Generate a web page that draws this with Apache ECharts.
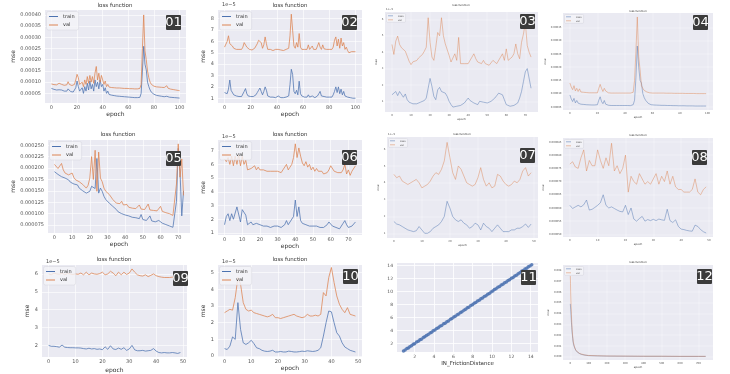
<!DOCTYPE html>
<html><head><meta charset="utf-8">
<script src="https://cdn.jsdelivr.net/npm/echarts@6/dist/echarts.min.js"></script>
<style>html,body{margin:0;padding:0;background:#fff}#c{width:730px;height:374px}</style>
</head><body><div id="c"></div>
<script>
// ---------------- DATA (mse values in units of 1e-5 unless noted) ----------------
const p01Train=[7.2,7.0,6.8,6.7,6.5,6.4,6.6,7.3,6.5,6.2,6.0,5.9,6.0,7.0,6.2,5.8,5.7,5.6,5.8,7.5,10.5,8.0,6.0,5.5,7.5,5.0,8.0,6.0,9.5,6.5,10.5,7.0,9.0,6.0,11.0,8.0,10.0,7.0,11.0,8.0,9.0,6.0,7.5,5.0,6.0,4.5,4.5,4.2,4.3,4.0,3.9,3.8,3.8,3.7,3.6,3.6,3.5,3.5,3.4,3.4,3.3,3.3,3.2,3.2,3.2,3.1,3.1,3.1,3.0,3.2,5.0,15.0,26.0,18.0,15.5,10.0,8.0,6.5,5.5,5.0,4.6,4.3,4.1,4.0,3.9,3.8,3.7,3.6,3.5,3.5,3.7,3.4,3.3,3.3,3.2,3.2,3.1,3.0,3.0,2.9,2.9];
const p01Val=[9.2,9.0,8.9,8.8,8.8,8.9,9.5,10.0,9.0,8.7,8.6,8.5,8.8,10.2,9.0,8.6,8.5,8.5,9.0,11.0,13.5,12.0,9.0,8.5,10.0,8.0,11.0,9.0,12.5,9.5,13.0,10.0,12.5,9.5,14.0,17.0,11.0,14.0,10.0,13.0,11.0,9.0,10.5,8.0,9.0,7.8,7.8,7.6,7.6,7.5,7.5,7.4,7.4,7.4,7.3,7.3,7.3,7.2,7.2,7.2,7.2,7.1,7.1,7.1,7.1,7.0,7.0,7.0,7.0,7.2,9.0,25.0,40.0,24.0,20.0,15.0,12.0,10.0,9.0,8.5,8.2,8.0,7.9,7.9,7.8,7.8,7.7,7.7,7.6,7.6,8.4,7.3,7.0,6.9,6.8,6.7,6.6,6.5,6.4,6.3,6.2];
const p02Train=[1.5,1.5,1.4,1.8,2.6,1.7,1.6,1.3,1.2,1.2,1.2,1.15,1.2,1.15,1.3,1.6,1.85,1.4,1.2,1.15,1.15,1.1,1.15,1.2,1.3,1.5,1.7,1.9,1.6,1.3,1.6,2.0,1.7,1.2,1.1,1.1,1.15,1.1,1.1,1.05,1.1,1.2,1.1,1.05,1.1,1.05,1.1,1.1,1.05,1.2,2.2,3.55,3.1,1.6,1.4,1.7,1.3,2.5,1.4,1.2,1.1,1.1,1.15,1.1,1.3,1.1,1.05,1.2,1.1,1.05,1.1,1.2,1.4,1.6,1.2,1.3,1.15,1.1,1.1,1.05,1.1,1.05,1.1,1.3,1.6,2.0,1.5,2.0,1.4,1.8,1.3,1.6,1.2,1.1,1.1,1.0,1.05,1.0,1.0,0.95,1.0];
const p02Val=[5.5,5.6,6.0,6.5,5.8,5.9,5.6,5.4,5.35,5.3,5.3,5.3,5.35,5.3,5.5,5.9,6.0,5.5,5.35,5.3,5.3,5.25,5.3,5.4,5.6,5.8,6.1,6.2,5.9,5.4,5.7,6.4,5.8,5.3,5.25,5.3,5.25,5.2,5.25,5.3,5.25,5.3,5.2,5.25,5.3,5.2,5.25,5.3,5.2,5.4,6.5,8.4,7.0,5.6,5.4,5.9,5.5,6.7,5.5,5.3,5.25,5.3,5.2,5.3,5.7,5.3,5.25,5.6,5.3,5.25,5.3,5.4,5.9,5.5,5.3,5.7,5.35,5.4,5.3,5.25,5.3,5.2,5.3,5.5,6.1,6.4,5.6,6.2,5.4,6.3,5.6,5.9,5.3,5.5,5.2,5.0,5.1,5.1,5.05,5.1,5.1];
const p03Train=[1.4,1.5,1.6,1.35,1.6,1.5,1.25,1.45,1.1,0.95,0.9,0.85,0.8,0.85,0.9,0.95,1.0,1.05,1.2,1.8,2.4,1.9,1.3,1.1,1.7,1.85,1.6,1.6,1.5,1.3,1.0,0.8,0.65,0.7,0.7,0.8,0.75,0.65,0.9,1.0,1.2,1.05,0.95,0.9,0.85,0.8,1.0,0.9,0.95,1.0,0.9,0.95,1.0,1.1,1.2,1.35,1.5,1.45,1.4,1.1,0.8,0.75,0.7,0.7,0.75,0.8,0.9,1.2,1.6,2.2,2.8,3.0,3.05,1.8];
const p03Val=[4.47,3.86,4.67,4.98,4.47,4.27,4.31,4.06,3.76,3.45,3.24,3.41,3.35,3.49,3.65,3.76,3.86,4.06,4.3,6.1,4.6,3.7,3.5,4.3,5.2,5.0,6.1,5.0,4.5,4.6,3.8,3.4,3.5,3.9,3.5,4.9,3.3,3.4,3.3,3.2,3.3,3.4,3.7,3.9,3.6,3.4,3.5,3.3,3.5,3.3,3.4,3.2,3.3,3.5,3.6,3.3,3.4,3.7,3.9,3.5,4.2,3.5,3.5,3.7,3.9,4.5,3.9,3.6,4.6,5.1,5.8,4.4,4.0,3.7];
const p04Train=[9.5,8.0,7.0,8.2,6.5,7.4,6.4,6.8,6.0,6.2,5.9,5.8,5.8,5.8,5.75,5.75,5.7,5.7,5.7,5.7,5.8,7.5,8.8,7.0,6.2,7.4,6.0,5.8,5.6,5.5,5.5,5.5,5.5,5.5,5.5,5.5,5.5,5.5,5.5,5.5,5.5,5.5,5.5,5.45,5.45,5.45,5.8,7.5,16.0,28.0,20.0,15.0,14.0,10.0,8.5,7.5,6.8,6.3,6.0,5.8,5.7,5.7,5.65,5.65,5.6,5.6,5.6,5.55,5.55,5.55,5.5,5.5,5.5,5.5,5.45,5.45,5.45,5.45,5.4,5.4,5.4,5.4,5.4,5.4,5.35,5.35,5.35,5.35,5.35,5.35,5.3,5.3,5.3,5.3,5.3,5.3,5.3,5.3,5.3,5.3];
const p04Val=[14.0,12.5,11.5,13.0,11.0,12.0,10.8,11.8,10.6,11.0,10.5,10.4,10.4,10.3,10.3,10.3,10.3,10.3,10.3,10.3,10.3,12.0,13.5,12.0,10.8,12.0,11.0,10.5,10.3,10.2,10.2,10.2,10.2,10.2,10.2,10.2,10.2,10.2,10.2,10.2,10.2,10.2,10.2,10.2,10.2,10.2,10.5,15.0,26.0,39.0,24.0,19.0,13.0,12.0,11.2,10.8,10.6,10.4,10.3,10.3,10.2,10.2,10.2,10.2,10.2,10.2,10.2,10.2,10.2,10.2,10.15,10.15,10.15,10.15,10.15,10.1,10.1,10.1,10.1,10.1,10.1,10.1,10.1,10.1,10.05,10.05,10.05,10.05,10.05,10.05,10.05,10.0,10.0,10.0,10.0,10.0,10.0,10.0,10.0,10.0];
const p05Train=[19.2,18.9,18.6,18.3,18.1,17.9,17.8,17.6,17.4,16.9,17.2,16.5,16.2,16.3,15.6,15.3,15.0,14.7,14.5,14.3,14.9,16.0,16.3,15.5,22.1,14.5,15.6,14.9,13.8,13.1,12.7,12.3,12.0,11.6,11.3,10.9,10.4,10.2,10.0,9.8,9.7,9.5,9.5,9.3,9.2,9.1,9.1,8.9,8.9,9.8,8.7,8.6,8.5,8.4,9.5,8.4,8.2,8.2,8.4,8.5,8.2,7.9,7.7,7.6,7.4,7.3,7.1,7.0,7.3,12.7,24.3,19.2,9.5,15.0];
const p05Val=[20.8,20.5,19.9,20.1,21.0,19.6,18.9,19.2,18.5,18.1,18.9,17.9,17.4,17.8,17.0,16.6,16.4,16.1,15.6,16.2,17.8,22.5,17.5,23.9,14.9,23.5,17.8,17.0,15.6,14.9,14.5,14.2,13.8,13.1,13.4,12.3,12.6,12.2,12.7,11.9,11.6,12.0,11.4,11.7,11.2,11.5,11.1,11.3,11.9,11.0,11.2,10.9,11.1,12.1,10.8,11.2,10.7,11.0,10.6,10.4,11.6,10.5,10.7,10.2,10.5,10.0,9.9,9.6,10.0,16.5,25.3,18.0,22.0,14.0];
const p06Train=[1.6,2.2,2.4,1.9,2.4,2.0,1.9,2.9,2.9,1.8,2.7,2.8,2.3,1.6,1.5,1.8,1.6,1.6,1.7,1.6,1.6,1.6,1.5,1.5,1.5,1.5,1.4,1.5,1.5,1.4,1.5,1.4,1.4,1.5,1.6,1.9,1.6,1.8,1.9,2.2,3.4,2.2,2.9,1.9,1.7,1.7,1.6,1.5,1.5,1.6,1.5,1.4,1.5,1.4,1.4,1.4,1.4,1.4,1.6,1.8,1.9,1.5,1.4,1.4,1.3,1.3,1.4,1.7,1.9,1.6,1.4,1.3,1.5,1.6,1.8];
const p06Val=[6.4,6.2,6.5,6.0,6.6,5.9,6.6,6.0,6.7,5.9,6.6,6.0,6.3,5.6,5.5,5.7,5.6,5.9,5.6,5.8,5.6,5.7,5.6,5.5,5.5,5.4,5.5,5.4,5.5,5.4,5.5,5.5,5.4,5.6,5.7,6.0,5.6,5.8,6.0,6.5,7.5,6.5,7.2,6.6,6.1,5.9,6.2,5.8,6.0,5.6,5.8,5.5,5.7,5.5,5.4,5.5,5.3,5.4,5.4,5.6,5.9,5.9,5.5,5.4,5.4,5.3,5.4,5.6,6.0,5.3,5.6,5.2,5.5,5.6,5.9];
const p07Train=[1.7,1.55,1.5,1.4,1.3,1.2,1.15,1.1,1.15,1.4,1.2,1.0,1.0,1.1,1.3,1.4,1.5,1.7,2.0,2.9,2.5,2.0,1.8,1.7,1.8,1.6,1.5,1.3,1.4,1.6,1.5,1.2,1.6,1.4,1.3,1.1,1.3,1.5,1.3,1.1,1.1,1.1,1.2,1.2,1.3,1.3,1.4,1.55,1.35,1.55];
const p07Val=[4.5,4.3,4.4,4.1,4.0,3.9,4.0,4.1,4.2,4.0,3.7,3.8,3.9,4.1,4.4,4.6,4.5,4.8,5.3,6.4,5.5,4.6,4.2,5.0,4.8,4.4,4.0,3.9,3.8,3.9,4.3,4.9,4.2,3.8,4.0,3.7,3.8,4.5,4.4,4.1,3.9,3.8,3.9,4.1,4.0,4.2,4.7,4.9,4.4,4.6];
const p08Train=[6.1,5.98,6.04,6.1,6.04,6.12,6.3,5.92,5.95,6.02,6.1,6.2,6.5,6.1,6.0,6.04,5.98,5.92,5.87,5.85,6.1,5.75,6.0,5.58,5.5,5.6,5.68,5.5,5.56,5.52,5.57,5.52,5.58,5.55,5.53,5.95,5.52,5.45,5.55,5.3,5.2,5.18,5.15,5.13,5.12,5.35,5.3,5.18,5.1,5.05];
const p08Val=[7.66,7.75,7.55,7.5,7.9,8.2,7.4,7.8,7.6,7.6,8.2,7.8,7.5,7.9,7.6,8.45,7.4,7.6,7.3,7.5,8.0,6.6,7.2,7.0,6.9,7.3,7.1,6.9,7.0,6.9,7.1,7.3,6.9,7.2,7.0,7.4,6.9,7.2,6.8,6.7,6.7,6.6,6.6,6.6,6.7,7.1,6.6,6.5,6.7,6.8];
const p09Train=[2.0,1.95,1.95,1.93,1.9,2.02,1.9,1.88,1.87,1.87,1.86,1.86,1.85,1.82,1.8,1.84,1.8,1.82,1.78,1.8,1.76,1.92,1.78,1.98,1.8,1.77,1.85,1.78,1.87,1.72,1.8,2.0,1.75,1.7,1.7,1.72,1.68,1.7,1.72,1.82,1.68,1.6,1.58,1.6,1.58,1.58,1.6,1.58,1.55,1.6];
const p09Val=[6.0,5.95,6.05,6.0,5.98,6.05,5.95,6.02,6.0,5.97,6.0,5.98,6.05,5.95,6.1,5.95,6.05,6.0,5.98,6.02,6.1,5.95,6.0,6.15,6.05,5.9,6.1,5.95,6.1,5.97,6.05,6.28,6.1,5.95,5.9,5.88,5.95,5.85,5.92,6.0,5.9,5.85,5.82,5.8,5.8,5.8,5.82,5.8,5.8,5.78];
const p10Train=[0.45,0.4,0.6,1.15,1.0,3.2,1.6,0.8,0.7,0.8,0.95,0.75,0.5,0.45,0.35,0.3,0.28,0.3,0.35,0.25,0.25,0.28,0.25,0.25,0.3,0.28,0.25,0.25,0.27,0.3,0.28,0.32,0.3,0.28,0.3,0.35,0.5,1.2,2.0,2.7,2.65,2.0,1.4,1.2,0.8,0.55,0.45,0.35,0.3,0.25];
const p10Val=[2.6,2.7,2.8,2.75,3.5,4.7,4.3,3.2,2.8,2.7,2.75,2.6,2.55,2.5,2.45,2.4,2.35,2.4,2.5,2.3,2.3,2.25,2.3,2.35,2.4,2.45,2.5,2.4,2.35,2.3,2.35,2.5,2.4,2.4,2.45,2.4,2.5,3.8,3.6,4.7,5.3,4.4,3.6,3.1,2.8,2.6,2.9,2.5,2.45,2.4];
// panel 11: actual vs predicted IN_FrictionDistance
const p11Actual=[0.85,1.02,1.2,1.35,1.5,1.68,1.85,2.0,2.2,2.38,2.55,2.7,2.9,3.05,3.22,3.4,3.6,3.75,3.92,4.1,4.28,4.45,4.62,4.8,5.0,5.15,5.33,5.5,5.7,5.86,6.05,6.2,6.4,6.56,6.75,6.9,7.1,7.27,7.45,7.6,7.8,7.98,8.15,8.32,8.5,8.68,8.85,9.02,9.2,9.38,9.55,9.72,9.9,10.08,10.25,10.42,10.6,10.78,10.95,11.12,11.3,11.48,11.65,11.82,12.0,12.18,12.35,12.52,12.7,12.88,13.05,13.22,13.4,13.58,13.75,13.92,14.1];
const p11Pred=[0.88,1.0,1.23,1.33,1.52,1.66,1.88,1.98,2.23,2.36,2.57,2.68,2.93,3.03,3.25,3.38,3.62,3.73,3.95,4.08,4.3,4.43,4.65,4.78,5.03,5.13,5.36,5.48,5.72,5.84,6.08,6.18,6.43,6.54,6.78,6.88,7.13,7.25,7.48,7.58,7.83,7.95,8.18,8.3,8.53,8.65,8.88,9.0,9.23,9.35,9.58,9.7,9.93,10.05,10.28,10.4,10.63,10.75,10.98,11.1,11.33,11.45,11.68,11.8,12.03,12.15,12.38,12.5,12.73,12.85,13.08,13.2,13.43,13.55,13.78,13.9,14.08];
// panel 12: [epoch, mse] (absolute units)
const p12Train=[[0,0.0049],[2,0.0044],[4,0.0038],[6,0.0032],[8,0.0027],[10,0.0022],[13,0.0017],[16,0.0013],[20,0.0010],[25,0.0008],[30,0.0006],[40,0.0004],[50,0.0003],[60,0.00022],[80,0.00015],[100,0.0001],[150,0.00008],[200,0.00006],[300,0.00005],[400,0.00004],[500,0.00004],[600,0.00003],[700,0.00003],[740,0.00003]];
const p12Val=[[0,0.0075],[1,0.0068],[2,0.006],[4,0.0048],[6,0.0039],[8,0.0031],[10,0.0025],[13,0.0019],[16,0.0014],[20,0.0011],[25,0.0008],[30,0.0006],[40,0.00042],[50,0.0003],[60,0.00023],[80,0.00016],[100,0.00012],[150,0.00009],[200,0.00007],[300,0.00006],[400,0.00005],[500,0.00005],[600,0.00004],[700,0.00004],[740,0.00004]];

// tick labels
const xTicks100=[0,20,40,60,80,100];
const xTicks70=[0,10,20,30,40,50,60,70];
const xTicks50=[0,10,20,30,40,50];
const xTicks700=[0,100,200,300,400,500,600,700];
const p01YTicks=[5,10,15,20,25,30,35,40];
const p02YTicks=[1,2,3,4,5,6,7,8];
const p03YTicks=[1,2,3,4,5,6];
const p04YTicks=[5,10,15,20,25,30,35];
const p05YTicks=[7.5,10,12.5,15,17.5,20,22.5,25];
const p06YTicks=[1,2,3,4,5,6,7];
const p07YTicks=[1,2,3,4,5,6];
const p08YTicks=[5,5.5,6,6.5,7,7.5,8,8.5];
const p09YTicks=[2,3,4,5,6];
const p10YTicks=[0,1,2,3,4,5];
const p11Ticks=[2,4,6,8,10,12,14];
const p12YTicks=[0,0.001,0.002,0.003,0.004,0.005,0.006,0.007,0.008];
const seriesNames=['train','val'];
const panelLabels=['01','02','03','04','05','06','07','08','09','10','11','12'];

// ---------------- LAYOUT / STYLE ----------------
const TRAIN='#4C72B0', VAL='#DD8452';
const e5=d=>v=>(v*1e-5).toFixed(d);
const intf=v=>String(v);
const BIG={tick:5,title:5.5,name:6,leg:5,lw:0.9,xm:2.5,ym:4,gridW:0.6,legW:9,legH:1,legGap:2,off:5};
const SMALL={tick:2.6,title:2.8,name:2.8,leg:2.4,lw:0.55,xm:1.5,ym:1.5,gridW:0.35,legW:5,legH:0.5,legGap:1,off:2.6};
const idx=a=>a.map((v,i)=>[i,v]);
const panels=[
 {g:[45,10,141,93],x:[-5,105],xt:xTicks100,y:[0.7,42.2],yt:p01YTicks,yf:e5(5),tr:idx(p01Train),va:idx(p01Val),t:[115,6],xg:8,yg:24,badge:[166,15]},
 {g:[218,10,144,93],x:[-5,105],xt:xTicks100,y:[0.58,8.77],yt:p02YTicks,yf:intf,tr:idx(p02Train),va:idx(p02Val),t:[290,6],xg:8,yg:8,off:[222,5],badge:[342,15]},
 {g:[385,12,153,100],x:[-3.65,76.65],xt:xTicks70,y:[0.35,6.45],yt:p03YTicks,yf:intf,tr:idx(p03Train),va:idx(p03Val),t:[461,5],xg:4,yg:4,off:[386,9.5],badge:[520,14],small:true},
 {g:[563,13,150,97],x:[-5,104],xt:xTicks100,y:[3.8,40.5],yt:p04YTicks,yf:e5(5),tr:idx(p04Train),va:idx(p04Val),t:[638,11],xg:4,yg:12,badge:[693,15],small:true},
 {g:[48,140,142,93],x:[-3.65,76.65],xt:xTicks70,y:[5.75,26.15],yt:p05YTicks,yf:e5(6),tr:idx(p05Train),va:idx(p05Val),t:[118,135],xg:8,yg:27,badge:[166,151]},
 {g:[218,140,144,95],x:[-3.7,77.7],xt:xTicks70,y:[0.85,7.78],yt:p06YTicks,yf:intf,tr:idx(p06Train),va:idx(p06Val),t:[290,135],xg:6,yg:8,off:[222,137],badge:[342,150]},
 {g:[387,137,151,101],x:[-2.45,51.45],xt:xTicks50,y:[0.72,6.72],yt:p07YTicks,yf:intf,tr:idx(p07Train),va:idx(p07Val),t:[462,134],xg:4,yg:4,off:[388,134.5],badge:[520,148],small:true},
 {g:[563,138,150,99],x:[-2.45,51.45],xt:xTicks50,y:[4.9,8.65],yt:p08YTicks,yf:e5(6),tr:idx(p08Train),va:idx(p08Val),t:[638,135],xg:4,yg:13,badge:[692,150],small:true},
 {g:[42,265,145,92],x:[-2.45,51.45],xt:xTicks50,y:[1.35,6.5],yt:p09YTicks,yf:intf,tr:idx(p09Train),va:idx(p09Val),t:[114,260],xg:10,yg:8,off:[46,262],badge:[173,271]},
 {g:[218,265,144,92],x:[-2.45,51.45],xt:xTicks50,y:[-0.05,5.45],yt:p10YTicks,yf:intf,tr:idx(p10Train),va:idx(p10Val),t:[290,260],xg:8,yg:8,off:[222,262],badge:[343,269]},
 {g:[397,263,141,89],x:[0.18,14.75],xt:p11Ticks,y:[0.71,14.36],yt:p11Ticks,yf:intf,scatter:true,badge:[521,270],xname:'IN_FrictionDistance',xg:9},
 {g:[563,265,150,95],x:[-40,780],xt:xTicks700,y:[-0.0003,0.0085],yt:p12YTicks,yf:v=>v.toFixed(3),tr:p12Train,va:p12Val,t:[638,262],xg:4,yg:10,badge:[697,269],small:true}
];

const option={animation:false,backgroundColor:'#ffffff',grid:[],xAxis:[],yAxis:[],series:[],legend:[],graphic:[]};
panels.forEach((p,i)=>{
  const s=p.small?SMALL:BIG;
  const tickFont=p.scatter?4.5:s.tick;
  option.grid.push({left:p.g[0],top:p.g[1],width:p.g[2],height:p.g[3],show:true,backgroundColor:'#EAEAF2',borderWidth:0,containLabel:false,outerBoundsMode:'none'});
  const axisCommon={axisLine:{show:false},splitLine:{show:true,lineStyle:{color:'#ffffff',width:p.scatter?0.8:s.gridW}}};
  option.xAxis.push(Object.assign({type:'value',gridIndex:i,min:p.x[0],max:p.x[1],
    name:p.scatter?p.xname:'epoch',nameLocation:'middle',nameGap:p.xg,
    nameTextStyle:{fontSize:p.scatter?5.5:s.name,color:'#333',fontFamily:'DejaVu Sans'},
    axisTick:{show:false,customValues:p.xt},
    axisLabel:{customValues:p.xt,fontSize:tickFont,color:'#555',margin:s.xm,fontFamily:'DejaVu Sans',formatter:intf}},axisCommon));
  option.yAxis.push(Object.assign({type:'value',gridIndex:i,min:p.y[0],max:p.y[1],
    name:p.scatter?'':'mse',nameLocation:'middle',nameGap:p.yg||8,
    nameTextStyle:{fontSize:s.name,color:'#333',fontFamily:'DejaVu Sans'},
    axisTick:{show:false,customValues:p.yt},
    axisLabel:{customValues:p.yt,fontSize:tickFont,color:'#555',margin:p.scatter?4:s.ym,fontFamily:'DejaVu Sans',formatter:p.yf}},axisCommon));
  if(p.scatter){
    option.series.push({type:'scatter',name:'pred',xAxisIndex:i,yAxisIndex:i,
      data:p11Actual.map((a,k)=>[a,p11Pred[k]]),symbolSize:3.5,
      itemStyle:{color:TRAIN,opacity:0.85}});
  } else {
    [[seriesNames[0],p.tr,TRAIN],[seriesNames[1],p.va,VAL]].forEach(([nm,d,c])=>{
      option.series.push({type:'line',name:nm,xAxisIndex:i,yAxisIndex:i,data:d,symbol:'none',showSymbol:false,
        lineStyle:{color:c,width:s.lw,opacity:0.85},itemStyle:{color:c},clip:true});
    });
    option.legend.push({data:seriesNames.map(n=>({name:n,icon:'rect'})),orient:'vertical',left:p.g[0]+1.5,top:p.g[1]+1.5,
      itemWidth:s.legW,itemHeight:s.legH,itemGap:p.small?1.6:3.5,selectedMode:false,
      padding:p.small?[1.2,2,1.2,1.5]:[2.5,4,2.5,2.5],backgroundColor:'rgba(244,244,248,0.8)',
      borderColor:'#d4d4dc',borderWidth:0.5,borderRadius:p.small?1:2,
      textStyle:{fontSize:s.leg,color:'#333',fontFamily:'DejaVu Sans',lineHeight:s.leg}});
    option.graphic.push({type:'text',x:p.t[0],y:p.t[1],silent:true,
      style:{text:'loss function',fill:'#333',font:s.title+'px "DejaVu Sans"',textAlign:'center',align:'center',textVerticalAlign:'middle',verticalAlign:'middle'}});
  }
  if(p.off){
    option.graphic.push({type:'text',x:p.off[0],y:p.off[1],silent:true,
      style:{text:'1e\u22125',fill:'#444',font:s.off+'px "DejaVu Sans"',textAlign:'left',align:'left',textVerticalAlign:'middle',verticalAlign:'middle'}});
  }
  option.graphic.push({type:'rect',x:p.badge[0],y:p.badge[1],z:100,silent:true,shape:{x:0,y:0,width:15,height:15,r:1},style:{fill:'#3b3b3b'}});
  option.graphic.push({type:'text',x:p.badge[0]+7.5,y:p.badge[1]+8,z:101,silent:true,
    style:{text:panelLabels[i],fill:'#ffffff',font:'13px "DejaVu Sans"',textAlign:'center',align:'center',textVerticalAlign:'middle',verticalAlign:'middle'}});
});
const chart=echarts.init(document.getElementById('c'),null,{renderer:'canvas'});
chart.setOption(option);
</script></body></html>
